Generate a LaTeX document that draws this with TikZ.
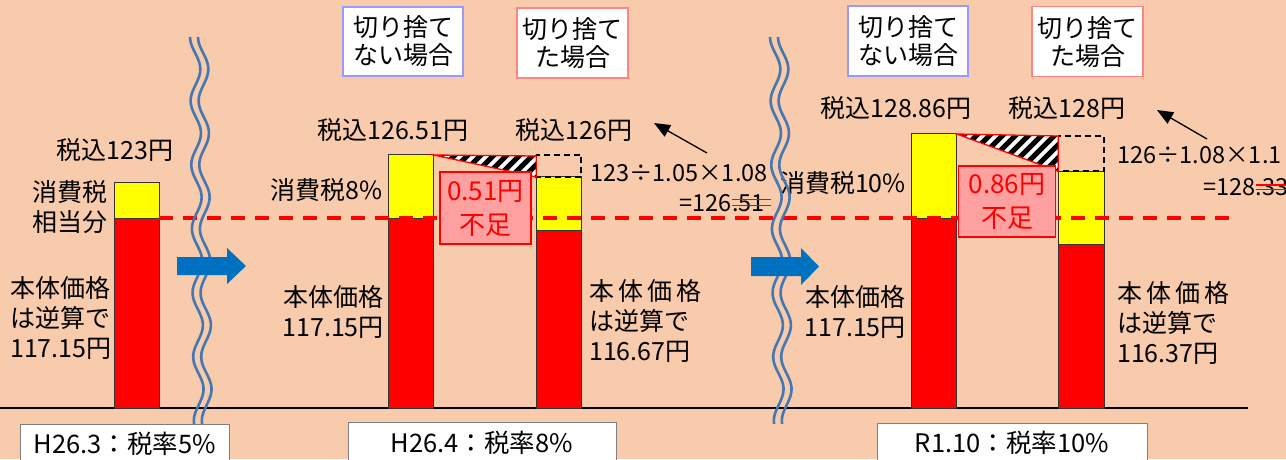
\documentclass[tikz,border=0pt]{standalone}
\usepackage{fontspec}
\setmainfont{Noto Sans CJK JP}
\usetikzlibrary{arrows.meta}
\definecolor{bgc}{HTML}{F8CBAD}
\definecolor{ylw}{HTML}{FFFF00}
\definecolor{rd}{HTML}{FF0000}
\definecolor{blu}{HTML}{0070C0}
\definecolor{wavec}{HTML}{4577B0}
\definecolor{pinkf}{HTML}{FFA0A0}
\definecolor{lav}{HTML}{9999FF}
\definecolor{lred}{HTML}{FF8585}
\definecolor{gry}{HTML}{808080}
\tikzset{
  lbl/.style={inner sep=0pt, font=\fontsize{25}{30}\selectfont},
  calcl/.style={inner sep=0pt, font=\fontsize{23.5}{28}\selectfont},
  ybar/.style={fill=ylw, draw=black!80, line width=0.8pt},
  rbar/.style={fill=rd, draw=black!80, line width=0.8pt},
  cutbox/.style={draw=black, line width=2pt, dash pattern=on 6pt off 4pt},
  tri/.style={draw=rd, line width=1.3pt},
  hatchl/.style={black, line width=5pt},
  reddash/.style={rd, line width=3.5pt, dash pattern=on 14pt off 10pt},
  lossbox/.style={draw=rd, fill=pinkf, line width=1.8pt, text=rd, align=center,
    inner sep=0pt, font=\fontsize{26}{34}\selectfont},
  topbox/.style={fill=white, line width=1.2pt, align=center, inner sep=0pt,
    font=\fontsize{25}{28}\selectfont},
  botbox/.style={fill=white, draw=gry, line width=1pt, inner sep=0pt,
    font=\fontsize{25.5}{30}\selectfont},
  wave/.style={wavec, line width=2.6pt},
  bigarrow/.style={fill=blu},
  ptr/.style={line width=1.3pt, -{Triangle[length=16pt,width=13pt]}},
  strike/.style={rd, line width=1.3pt}
}
\begin{document}
\begin{tikzpicture}[x=1pt,y=-1pt]
\fill[bgc] (0,0) rectangle (1286,459);
\useasboundingbox (0,0) rectangle (1286,459);

% baseline
\draw[line width=2pt] (0,408) -- (1248,408);

% bars
\draw[ybar] (114,182.3) rectangle (159,218.3);
\draw[rbar] (114,218.3) rectangle (159,408);
\draw[ybar] (388.7,154.7) rectangle (433.7,218.3);
\draw[rbar] (388.7,218.3) rectangle (433.7,408);
\draw[ybar] (536.3,176.7) rectangle (581.3,230.3);
\draw[rbar] (536.3,230.3) rectangle (581.3,408);
\draw[ybar] (911,133.3) rectangle (956.7,218);
\draw[rbar] (911,218) rectangle (956.7,408);
\draw[ybar] (1058.3,171.3) rectangle (1104,244);
\draw[rbar] (1058.3,244) rectangle (1104,408);

% dashed cut boxes
\draw[cutbox] (536.3,155) rectangle (581.3,176.7);
\draw[cutbox] (1058.3,135.7) rectangle (1104,171.3);

% hatched triangles
\begin{scope}
  \clip (433.7,155) -- (536.3,156) -- (536.3,177) -- cycle;
  \fill[white] (420,140) rectangle (550,190);
  \foreach \k in {-4,...,10} \draw[hatchl] (420+\k*13,190) -- ++(45,-45);
\end{scope}
\draw[tri] (433.7,155) -- (536.3,156) -- (536.3,177) -- cycle;
\begin{scope}
  \clip (956.7,134) -- (1058.3,136) -- (1058.3,171.3) -- cycle;
  \fill[white] (940,120) rectangle (1070,180);
  \foreach \k in {-5,...,10} \draw[hatchl] (940+\k*13,185) -- ++(60,-60);
\end{scope}
\draw[tri] (956.7,134) -- (1058.3,136) -- (1058.3,171.3) -- cycle;

% red dashed reference line
\draw[reddash] (159,218) -- (1232,218);

% loss boxes
\node[lossbox, minimum width=91pt, minimum height=72pt] (loss1) at (485.5,208) {0.51円\\不足};
\node[lossbox, minimum width=97pt, minimum height=71pt] (loss2) at (1007,201.5) {0.86円\\不足};

% top boxes
\node[topbox, draw=lav, minimum width=120pt, minimum height=69pt] (tb1) at (403,41.5) {切り捨て\\ない場合};
\node[topbox, draw=lred, minimum width=111pt, minimum height=70pt] (tb2) at (572.5,43) {切り捨て\\た場合};
\node[topbox, draw=lav, minimum width=120pt, minimum height=70pt] (tb3) at (908,41) {切り捨て\\ない場合};
\node[topbox, draw=lred, minimum width=111pt, minimum height=70pt] (tb4) at (1087.5,41.7) {切り捨て\\た場合};

% left section labels
\node[lbl] (t123) at (115,150) {税込123円};
\node[lbl, align=right, anchor=east] (lsh) at (108,207) {消費税\\相当分};
\node[lbl, align=left, anchor=west] (lhon) at (10,318) {本体価格\\は逆算で\\117.15円};

% middle section labels
\node[lbl] (t12651) at (393,130) {税込126.51円};
\node[lbl] (t126) at (574,130) {税込126円};
\node[lbl, anchor=east] (m8) at (383,190) {消費税8\%};
\node[lbl, align=right, anchor=east] (mhon1) at (384,312) {本体価格\\117.15円};
\node[lbl, align=left, anchor=west] (mhon2) at (589,321) {本\,体\,価\,格\\は逆算で\\116.67円};
\node[calcl, anchor=west] (mcalc) at (590,173) {123÷1.05×1.08};
\node[calcl, anchor=base east] (m51) at (765,211.7) {.51};
\node[calcl, anchor=base east] (m126) at (m51.base west) {=126};
\draw[strike] ([yshift=12.4pt]m51.base west) -- ([yshift=12.4pt,xshift=6pt]m51.base east);
\draw[strike] ([yshift=6.4pt]m51.base west) -- ([yshift=6.4pt,xshift=6pt]m51.base east);
\coordinate (p1s) at (707,153);
\coordinate (p1e) at (654,123);
\draw[ptr] (p1s) -- (p1e);

% right section labels
\node[lbl] (t12886) at (896,108) {税込128.86円};
\node[lbl] (t128) at (1067,108) {税込128円};
\node[lbl, anchor=east] (r10) at (906,183) {消費税10\%};
\node[lbl, align=right, anchor=east] (rhon1) at (906,312) {本体価格\\117.15円};
\node[lbl, align=left, anchor=west] (rhon2) at (1117,323) {本\,体\,価\,格\\は逆算で\\116.37円};
\node[calcl, anchor=west] (rcalc) at (1117,155) {126÷1.08×1.1};
\node[calcl, anchor=base west] (r128) at (1203,195) {=128};
\node[calcl, anchor=base west] (r33) at (r128.base east) {.33};
\draw[strike] ([yshift=10pt]r33.base west) -- ([yshift=10pt,xshift=6pt]r33.base east);
\draw[strike] ([yshift=5.7pt]r33.base west) -- ([yshift=5.7pt,xshift=6pt]r33.base east);
\coordinate (p2s) at (1207,139);
\coordinate (p2e) at (1157,110);
\draw[ptr] (p2s) -- (p2e);

% wavy break lines
\foreach \c in {199,779} {
  \foreach \o in {-4,4} {
    \draw[wave] plot[domain=37:424, samples=160, variable=\t]
      ({\c+\o-5*cos((\t-37)*5.625)+0.01*(\t-37)}, {\t});
  }
}

% blue arrows
\fill[bigarrow] (177,257) -- (227,257) -- (227,248) -- (246,266) -- (227,284) -- (227,275) -- (177,275) -- cycle;
\fill[bigarrow] (751,257) -- (801,257) -- (801,248) -- (819,266.5) -- (801,285) -- (801,276) -- (751,276) -- cycle;

% bottom period boxes
\node[botbox, minimum width=209pt, minimum height=38pt, anchor=north] (bb1) at (125,424) {H26.3：税率5\%};
\node[botbox, minimum width=268pt, minimum height=40pt, anchor=north] (bb2) at (482,422) {H26.4：税率8\%};
\node[botbox, minimum width=270pt, minimum height=39pt, anchor=north] (bb3) at (1012,423) {R1.10：税率10\%};
\end{tikzpicture}
\end{document}
